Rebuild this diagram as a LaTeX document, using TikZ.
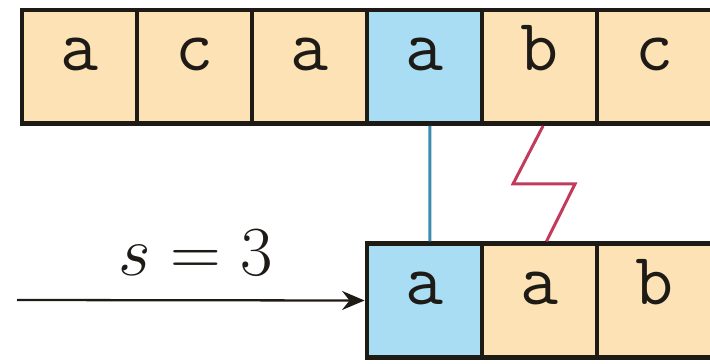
\RequirePackage{fix-cm}
\documentclass[tikz,border=0pt]{standalone}
\usepackage{fontspec}
\usepackage{tikz}
\usetikzlibrary{arrows.meta, positioning}
\definecolor{peche}{HTML}{FCE2B4}
\definecolor{ciel}{HTML}{A9DDF4}
\definecolor{bord}{HTML}{1E1A16}
\definecolor{liaison}{HTML}{3B8CAE}
\definecolor{conflit}{HTML}{C23A5C}

\tikzset{
  cellule/.style={draw=bord, line width=2.8pt, fill=peche, minimum width=2.3cm,
    minimum height=2.27cm, inner sep=0pt, text height=1ex, text depth=0pt,
    font=\fontsize{42}{42}\selectfont\ttfamily, text=bord},
  egal/.style={cellule, fill=ciel}
}

\begin{document}
\begin{tikzpicture}
    \clip (0,0) rectangle (14.2,7.26);
    % texte
    \foreach \i/\lab/\st in {1/a/cellule, 2/c/cellule, 3/a/cellule, 4/a/egal, 5/b/cellule, 6/c/cellule} {
      \node[\st] (t\i) at (0.44+\i*2.3-1.15, 5.925) {\lab};
    }
    % motif
    \foreach \i/\lab/\st in {1/a/egal, 2/a/cellule, 3/b/cellule} {
      \node[\st] (p\i) at (7.34+\i*2.3-1.15, 1.25) {\lab};
    }
    \draw[liaison, line width=1.7pt] ([xshift=3pt]t4.south) -- ([xshift=3pt]p1.north);
    \draw[conflit, line width=1.7pt, line join=miter]
      ([xshift=2pt]t5.south) -- ++(-0.6,-1.16) -- ++(1.24,0) -- ([xshift=4pt]p2.north);
    % decalage
    \coordinate (depart) at (0.34,1.26);
    \draw[bord, line width=1.3pt, -{Stealth[length=0.45cm, width=0.38cm, inset=0.15cm]}] (depart) -- (p1.west);
    \node[font=\fontsize{40}{40}\selectfont, text=bord] (decal) at (3.92,2.2) {$s=3$};
  \end{tikzpicture}
\end{document}
